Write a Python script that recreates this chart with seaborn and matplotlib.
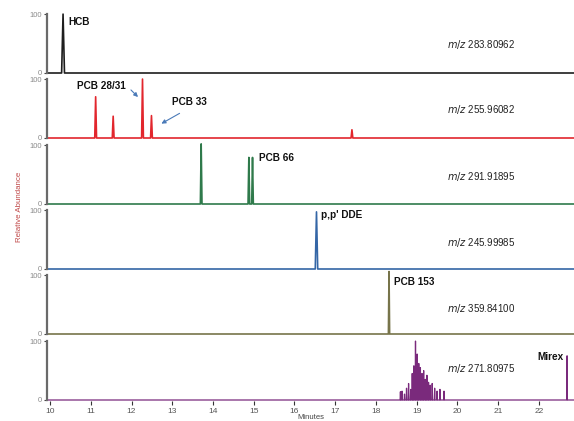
import matplotlib
matplotlib.use("Agg")
import matplotlib.pyplot as plt
import seaborn as sns
import pandas as pd

# ---------------- data ----------------
hcb_rt = [10.32]
hcb_h = [100]

pcb28_rt = [11.12, 11.55, 12.27, 12.49, 17.41]
pcb28_h = [70, 37, 100, 38, 14]

pcb66_rt = [13.71, 14.88, 14.97]
pcb66_h = [102, 79, 79]

dde_rt = [16.54]
dde_h = [97]

pcb153_rt = [18.32]
pcb153_h = [106]

mirex_rt = [18.60, 18.64, 18.70, 18.75, 18.80, 18.85, 18.89, 18.93, 18.97, 19.01,
            19.05, 19.09, 19.13, 19.17, 19.21, 19.25, 19.29, 19.33, 19.38, 19.44,
            19.50, 19.57, 19.67, 22.69]
mirex_h = [14, 15, 10, 20, 28, 18, 45, 58, 100, 78,
           62, 55, 45, 50, 35, 42, 30, 25, 28, 20,
           15, 18, 15, 75]

mz_labels = ["283.80962", "255.96082", "291.91895", "245.99985", "359.84100", "271.80975"]
x_ticks = list(range(10, 23))
y_ticks = [0, 100]

panels = [
    (hcb_rt, hcb_h, "#1e1e1e", 0.035, 1.2),
    (pcb28_rt, pcb28_h, "#e2262d", 0.022, 1.2),
    (pcb66_rt, pcb66_h, "#2f7a4b", 0.02, 1.2),
    (dde_rt, dde_h, "#3466a6", 0.03, 1.2),
    (pcb153_rt, pcb153_h, "#77744a", 0.015, 1.2),
    (mirex_rt, mirex_h, "#7a2a7c", 0.008, 0.9),
]

XMIN, XMAX = 9.926, 22.86
W, H = 574, 421
PX_PER_MIN = 40.75
PX_PER_UNIT = 0.589
baselines = [73, 138, 204, 269, 334, 400]
PANEL_H = 65.4
YLO, YHI = -2, 109


def trace(rts, hs, hw):
    xs, ys = [XMIN], [0]
    for t, h in zip(rts, hs):
        xs += [t - hw, t, t + hw]
        ys += [0, h, 0]
    xs.append(XMAX)
    ys.append(0)
    return pd.DataFrame({"Minutes": xs, "Abundance": ys})


sns.set_theme(style="white")
plt.rcParams["font.family"] = ["Liberation Sans", "DejaVu Sans"]

fig = plt.figure(figsize=(W / 100, H / 100), dpi=100)
axes = []
for i, (rts, hs, col, hw, lw) in enumerate(panels):
    b = baselines[i]
    bottom_px = b + (0 - YLO) * PX_PER_UNIT
    ax = fig.add_axes([47 / W, 1 - bottom_px / H, (W - 47) / W, PANEL_H / H])
    df = trace(rts, hs, hw)
    sns.lineplot(data=df, x="Minutes", y="Abundance", ax=ax, color=col,
                 lw=lw, sort=False, estimator=None)
    ax.set_xlim(XMIN, XMAX)
    ax.set_ylim(YLO, YHI)
    for s in ["top", "right", "bottom"]:
        ax.spines[s].set_visible(False)
    ax.spines["left"].set_color("#6a6a6a")
    ax.spines["left"].set_linewidth(1.6)
    ax.spines["left"].set_bounds(0, 100)
    ax.set_yticks(y_ticks)
    ax.set_yticklabels([str(v) for v in y_ticks])
    ax.tick_params(axis="y", left=True, length=2.5, width=0.8, color="#444444",
                   labelsize=5.5, labelcolor="#8a8a8a", pad=1)
    ax.set_ylabel("")
    ax.set_xticks(x_ticks)
    if i < len(panels) - 1:
        ax.tick_params(axis="x", bottom=False, labelbottom=False)
        ax.set_xlabel("")
    else:
        ax.set_xticklabels([str(v) for v in x_ticks])
        ax.tick_params(axis="x", bottom=True, length=3, width=0.8, color="#333333",
                       labelsize=6, labelcolor="#555555", pad=2)
        ax.set_xlabel("Minutes", fontsize=5.5, color="#444444", labelpad=-1)
    ax.patch.set_alpha(0)
    axes.append(ax)


def dx(px):
    return XMIN + (px - 47) / PX_PER_MIN


def dy(i, py):
    return (baselines[i] - py) / PX_PER_UNIT


# m/z labels
for i, mz in enumerate(mz_labels):
    yc = [45, 110, 177, 243, 309, 369][i]
    axes[i].text(dx(447), dy(i, yc), r"$\it{m/z}$ " + mz, fontsize=7,
                 color="#222222", va="center", ha="left")

bold = dict(fontsize=7.2, fontweight="bold", color="#111111", va="center", ha="left")
axes[0].text(dx(68), dy(0, 22), "HCB", **bold)
axes[1].text(dx(77), dy(1, 86), "PCB 28/31", **bold)
axes[1].text(dx(172), dy(1, 102), "PCB 33", **bold)
axes[2].text(dx(259), dy(2, 158), "PCB 66", **bold)
axes[3].text(dx(321), dy(3, 215), "p,p' DDE", **bold)
axes[4].text(dx(394), dy(4, 282), "PCB 153", **bold)
axes[5].text(dx(537), dy(5, 357), "Mirex", **bold)

arrow = dict(arrowstyle="-|>", color="#4a7ab8", lw=0.8, mutation_scale=6)
axes[1].annotate("", xy=(dx(140), dy(1, 99)), xytext=(dx(129), dy(1, 88)),
                 arrowprops=arrow)
axes[1].annotate("", xy=(dx(159), dy(1, 125)), xytext=(dx(182), dy(1, 112)),
                 arrowprops=arrow)

fig.text(19.5 / W, 1 - 207 / H, "Relative Abundance", rotation=90, fontsize=5.7,
         color="#c04848", ha="center", va="center")

fig.savefig("out.png", dpi=100)
